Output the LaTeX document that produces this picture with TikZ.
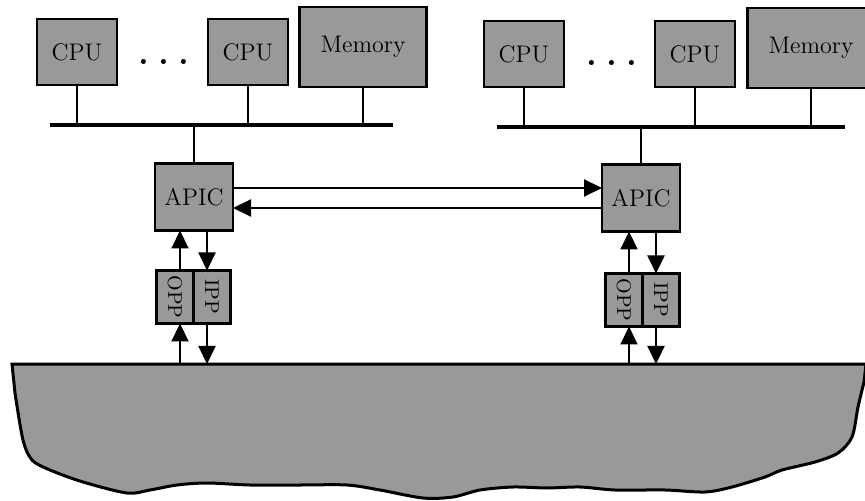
\documentclass[tikz,border=0pt]{standalone}
\usepackage{tikz}
\usetikzlibrary{arrows.meta,positioning,calc}

\begin{document}
\begin{tikzpicture}[
      x=0.5pt,y=-0.5pt,
      mybox/.style={
         rectangle,
         draw=black,
         fill=black!40,
         line width=1.3pt,
         inner sep=0pt,
         outer sep=0pt,
         minimum width=40pt,
         minimum height=33pt,
         font=\large},
      mymem/.style={
         mybox,
         minimum width=63.5pt,
         minimum height=40pt},
      myapic/.style={
         mybox,
         minimum width=39pt,
         minimum height=33.5pt},
      myport/.style={
         mybox,
         minimum width=18.5pt,
         minimum height=26.5pt,
         font=\normalsize},
      mydots/.style={anchor=base,font=\LARGE\bfseries},
      myline/.style={line width=1pt},
      mybus/.style={line width=2.4pt},
      myarrow/.style={myline,-{Triangle[length=9pt,width=8.5pt]}},
      mynet/.style={draw=black,fill=black!40,line width=1.5pt}
      ]
      \useasboundingbox (0,0) rectangle (865,501);
      % left machine
      \node[mybox] (cpuL1) at (77,52) {CPU};
      \node[mydots] (dotsL) at (164,65) {.\hspace{4.5pt}.\hspace{4.5pt}.};
      \node[mybox] (cpuL2) at (248,52) {CPU};
      \node[mymem] (memL) at (363,47) {Memory};
      \coordinate (busL1) at (50,125);
      \coordinate (busL2) at (393,125);
      \node[myapic] (apicL) at (194,197) {APIC};
      \node[myport] (oppL) at (175,297) {\rotatebox{-90}{OPP}};
      \node[myport,right=0pt of oppL] (ippL) {\rotatebox{-90}{IPP}};
      % right machine
      \node[mybox] (cpuR1) at (524,54) {CPU};
      \node[mydots] (dotsR) at (612,66) {.\hspace{4.5pt}.\hspace{4.5pt}.};
      \node[mybox] (cpuR2) at (695,54) {CPU};
      \node[mymem] (memR) at (811,48) {Memory};
      \coordinate (busR1) at (497,127);
      \coordinate (busR2) at (845,127);
      \node[myapic] (apicR) at (641,198) {APIC};
      \node[myport] (oppR) at (624,300) {\rotatebox{-90}{OPP}};
      \node[myport,right=0pt of oppR] (ippR) {\rotatebox{-90}{IPP}};
      % interconnect
      \coordinate (net) at (0,364);
      \draw[mynet] (12,364) -- (866,364) -- plot[smooth,tension=0.5] coordinates {
         (864,382) (858,407) (852,437) (838,453) (815,462) (782,470)
         (765,477) (732,487) (705,492) (665,490) (615,490) (580,487)
         (547,488) (513,487) (480,490) (453,497) (423,498) (380,490)
         (347,485) (300,485) (250,485) (207,483) (177,485) (150,490)
         (127,493) (83,482) (50,470) (32,460) (23,440) (15,393)} -- cycle;
    \foreach \s in {L,R} {
      \foreach \n in {cpu\s1,cpu\s2,mem\s}
         \draw[myline] (\n) -- (\n |- bus\s1);
      \draw[mybus] (bus\s1) -- (bus\s2);
      \draw[myline] (apic\s) -- (apic\s |- bus\s1);
      \coordinate (up\s) at ([xshift=2.5pt]opp\s.north);
      \coordinate (dn\s) at ([xshift=-2.5pt]ipp\s.north);
      \draw[myarrow] (up\s) -- (up\s |- apic\s.south);
      \draw[myarrow] (dn\s |- apic\s.south) -- (dn\s);
      \draw[myarrow] (up\s |- net) -- ([xshift=2.5pt]opp\s.south);
      \draw[myarrow] ([xshift=-2.5pt]ipp\s.south) -- (dn\s |- net);
    }
      \coordinate (txL) at ($(apicL.east)+(0,-9)$);
      \coordinate (rxR) at ($(apicR.west)+(0,10)$);
      \draw[myarrow] (txL) -- (txL -| apicR.west);
      \draw[myarrow] (rxR) -- (rxR -| apicL.east);
\end{tikzpicture}
\end{document}
